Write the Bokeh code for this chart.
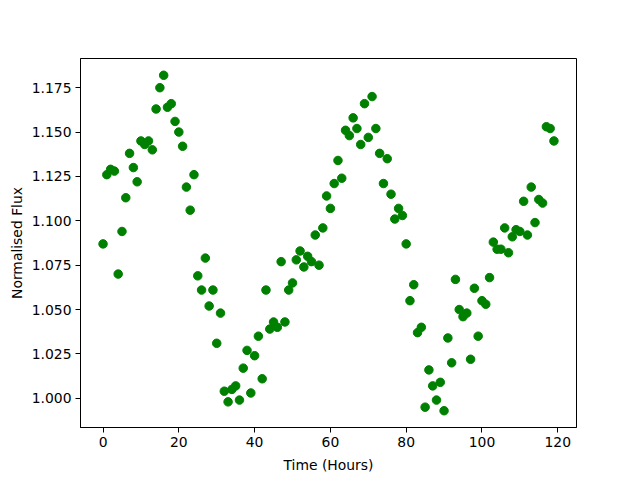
from bokeh.plotting import figure
from bokeh.models import Range1d, FixedTicker, NumeralTickFormatter
from bokeh.embed import file_html
from bokeh.resources import INLINE

hours = list(range(120))
flux = [
    1.087, 1.126, 1.129, 1.128, 1.070, 1.094, 1.113, 1.138, 1.130, 1.122,
    1.145, 1.143, 1.145, 1.140, 1.163, 1.175, 1.182, 1.164, 1.166, 1.156,
    1.150, 1.142, 1.119, 1.106, 1.126, 1.069, 1.061, 1.079, 1.052, 1.061,
    1.031, 1.048, 1.004, 0.998, 1.005, 1.007, 0.999, 1.017, 1.027, 1.003,
    1.024, 1.035, 1.011, 1.061, 1.039, 1.043, 1.040, 1.077, 1.043, 1.061,
    1.065, 1.078, 1.083, 1.074, 1.080, 1.077, 1.092, 1.075, 1.096, 1.114,
    1.107, 1.121, 1.134, 1.124, 1.151, 1.148, 1.158, 1.152, 1.143, 1.166,
    1.147, 1.170, 1.152, 1.138, 1.121, 1.135, 1.115, 1.101, 1.107, 1.103,
    1.087, 1.055, 1.064, 1.037, 1.040, 0.995, 1.016, 1.007, 0.999, 1.009,
    0.993, 1.034, 1.020, 1.067, 1.050, 1.046, 1.048, 1.022, 1.062, 1.035,
    1.055, 1.053, 1.068, 1.088, 1.084, 1.084, 1.096, 1.082, 1.091, 1.095,
    1.094, 1.111, 1.092, 1.119, 1.099, 1.112, 1.110, 1.153, 1.152, 1.145,
]
x_ticks = [0, 20, 40, 60, 80, 100, 120]
y_ticks = [1.000, 1.025, 1.050, 1.075, 1.100, 1.125, 1.150, 1.175]

xmin, xmax = min(hours), max(hours)
ymin, ymax = min(flux), max(flux)
xpad = (xmax - xmin) * 0.05
ypad = (ymax - ymin) * 0.05

p = figure(width=640, height=480, output_backend="svg", toolbar_location=None,
           x_range=Range1d(xmin - xpad, xmax + xpad),
           y_range=Range1d(ymin - ypad, ymax + ypad),
           min_border_left=80, min_border_right=64,
           min_border_top=58, min_border_bottom=53)

p.scatter(hours, flux, size=8.5, fill_color="#008000", line_color="#008000")

p.xgrid.visible = False
p.ygrid.visible = False
p.outline_line_color = "black"
p.outline_line_width = 1
p.outline_line_alpha = 1
p.background_fill_color = "white"
p.border_fill_color = "white"

p.xaxis.ticker = FixedTicker(ticks=x_ticks)
p.yaxis.ticker = FixedTicker(ticks=y_ticks)
p.yaxis.formatter = NumeralTickFormatter(format="0.000")
p.xaxis.axis_label = "Time (Hours)"
p.yaxis.axis_label = "Normalised Flux"

for ax in (p.xaxis, p.yaxis):
    ax.axis_line_color = "black"
    ax.major_tick_line_color = "black"
    ax.minor_tick_line_color = None
    ax.major_tick_out = 5
    ax.major_tick_in = 0
    ax.major_label_standoff = 4
    ax.axis_label_standoff = 7
    ax.major_label_text_font = "DejaVu Sans"
    ax.major_label_text_font_size = "13.9px"
    ax.major_label_text_color = "black"
    ax.axis_label_text_font = "DejaVu Sans"
    ax.axis_label_text_font_size = "13.9px"
    ax.axis_label_text_font_style = "normal"
    ax.axis_label_text_color = "black"

p.yaxis.axis_label_standoff = 4

open("out.html", "w").write(file_html(p, INLINE))
